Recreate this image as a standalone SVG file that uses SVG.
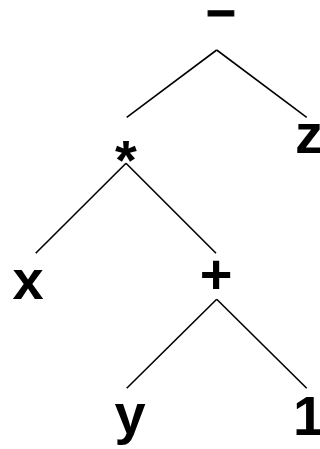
<svg xmlns="http://www.w3.org/2000/svg" width="320" height="449" viewBox="0 0 320 449">
<style>
text{font-family:"Liberation Sans",Arial,sans-serif;font-weight:bold;font-size:56px;fill:#000;text-anchor:middle}
line{stroke:#000;stroke-width:1.6;fill:none}
</style>
<rect width="320" height="449" fill="#fff"/>
<g id="connectors">
<line x1="216.7" y1="50" x2="126.7" y2="117.3"/>
<line x1="216.7" y1="50" x2="306.7" y2="117.3"/>
<line x1="126" y1="163.3" x2="35.7" y2="253.3"/>
<line x1="126" y1="163.3" x2="216" y2="253.3"/>
<line x1="216.7" y1="299.3" x2="126.7" y2="388.3"/>
<line x1="216.7" y1="299.3" x2="306.7" y2="388.3"/>
</g>
<g id="minus"><text x="221" y="26.5" style="font-size:52px;stroke:#000;stroke-width:1">–</text></g>
<g id="times"><text x="126" y="179">*</text></g>
<g id="z"><text x="309" y="153">z</text></g>
<g id="x"><text x="28" y="299">x</text></g>
<g id="plus"><text x="216" y="293">+</text></g>
<g id="y"><text x="130" y="433">y</text></g>
<g id="one"><text x="308.6" y="435">1</text></g>
</svg>
